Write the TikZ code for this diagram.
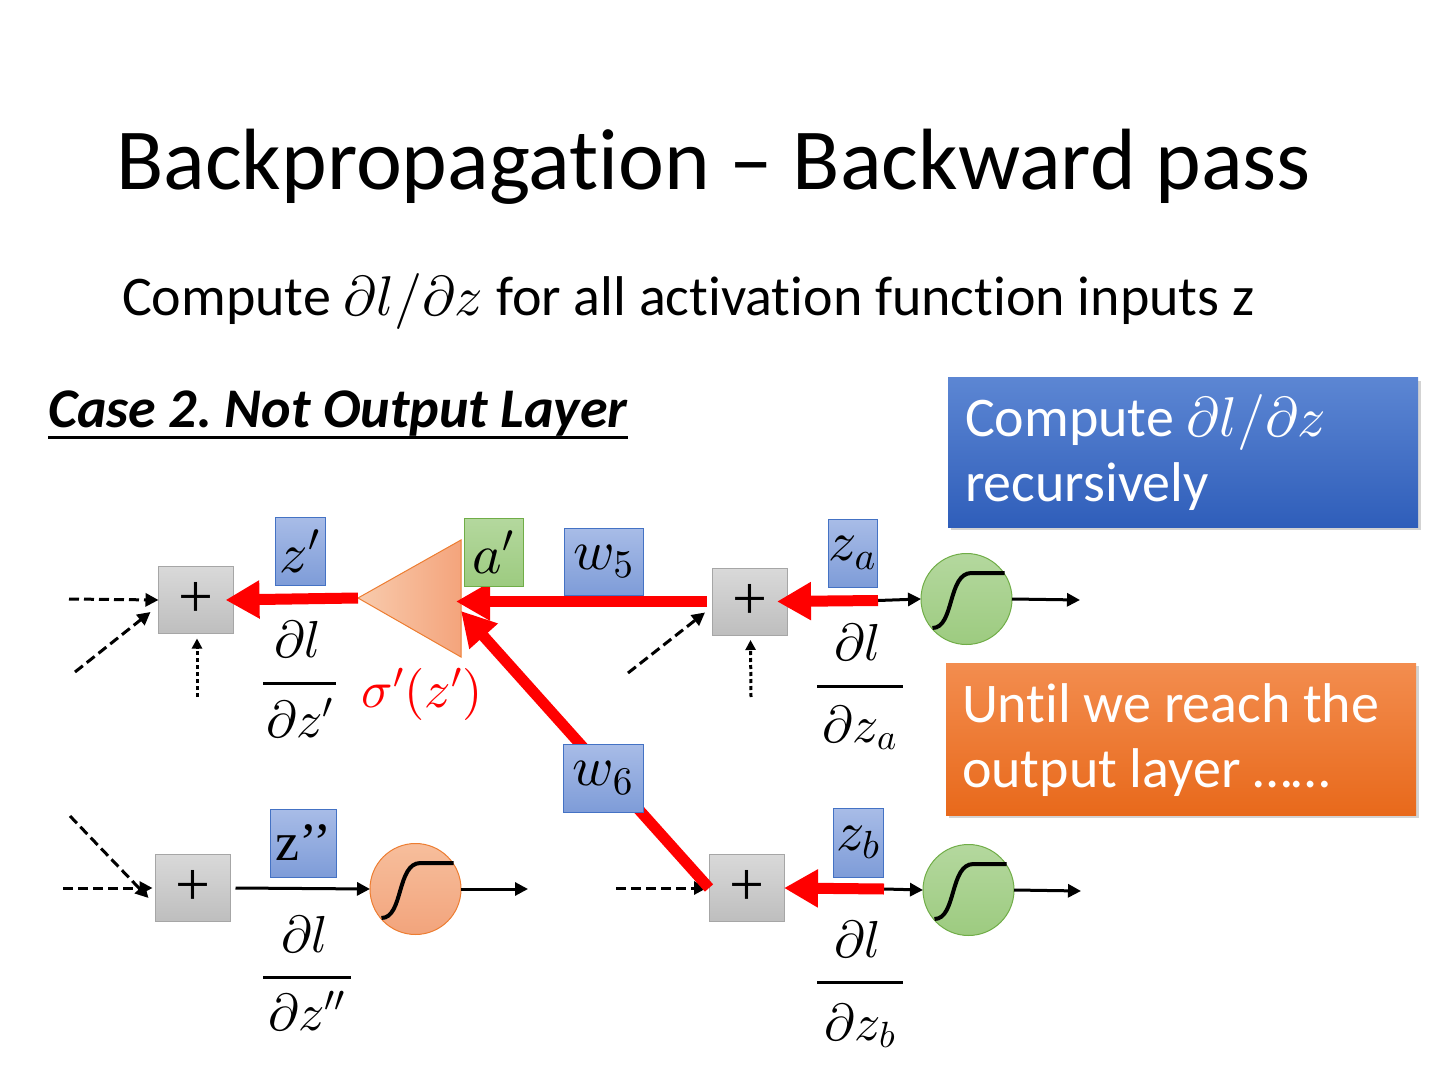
\documentclass[tikz,border=0pt]{standalone}
\usepackage[no-math]{fontspec}
\setmainfont{Carlito}[Ligatures={NoCommon}]
\newfontfamily\zfont{Liberation Serif}
\DeclareFontShape{OML}{cmm}{m}{it}{<->cmmi10}{}
\DeclareFontShape{OMS}{cmsy}{m}{n}{<->cmsy10}{}
\DeclareFontShape{OT1}{cmr}{m}{n}{<->cmr10}{}
\frenchspacing
\usetikzlibrary{arrows.meta,shadows,calc}
\definecolor{blueT}{HTML}{A8BCE7}
\definecolor{blueB}{HTML}{7E9CD8}
\definecolor{blueD}{HTML}{4472C4}
\definecolor{grayT}{HTML}{D9D9D9}
\definecolor{grayB}{HTML}{BEBEBE}
\definecolor{grayD}{HTML}{A6A6A6}
\definecolor{greenT}{HTML}{B4D89E}
\definecolor{greenB}{HTML}{9DCB80}
\definecolor{greenD}{HTML}{70AD47}
\definecolor{oranL}{HTML}{F8CBAD}
\definecolor{oranR}{HTML}{F4A47C}
\definecolor{oranT}{HTML}{F7BE9C}
\definecolor{oranB}{HTML}{F2A47C}
\definecolor{oranD}{HTML}{ED7D31}
\definecolor{bbT}{HTML}{5C86D3}
\definecolor{bbB}{HTML}{2F5EBA}
\definecolor{obT}{HTML}{F38D4F}
\definecolor{obB}{HTML}{E8691B}
\begin{document}
\begin{tikzpicture}[x=0.5pt,y=-0.5pt,
  every node/.style={inner sep=0pt, outer sep=0pt},
  plusbox/.style={rectangle, draw=grayD, line width=0.5pt, top color=grayT, bottom color=grayB, minimum width=37.5pt, minimum height=33.5pt, font=\zfont\fontsize{31}{31}\selectfont},
  lblbox/.style={rectangle, draw=blueD, line width=0.5pt, top color=blueT, bottom color=blueB, minimum height=34pt, font=\fontsize{28}{28}\selectfont},
  grnbox/.style={rectangle, draw=greenD, line width=0.5pt, top color=greenT, bottom color=greenB, minimum height=34pt, font=\fontsize{28}{28}\selectfont},
  sigcirc/.style={circle, draw=greenD, line width=0.5pt, top color=greenT, bottom color=greenB, minimum size=45.5pt},
  orcirc/.style={circle, draw=oranD, line width=0.5pt, top color=oranT, bottom color=oranB, minimum size=45.5pt},
  blk/.style={line width=1.5pt, -{Triangle[length=6.5pt,width=6.5pt]}},
  dsh/.style={blk, dash pattern=on 5pt off 2.5pt},
  dtt/.style={line width=1.5pt, dash pattern=on 2pt off 1.5pt, -{Triangle[length=5pt,width=5pt]}},
  redarr/.style={draw=red, line width=5.5pt, -{Triangle[length=17pt,width=18pt]}},
  mth/.style={font=\fontsize{26}{30}\selectfont, anchor=base},
  fracbar/.style={line width=1.5pt},
  bigbox/.style={rectangle, minimum width=235pt, drop shadow={shadow xshift=1.5pt, shadow yshift=-1.5pt, opacity=0.35}},
  boxtxt/.style={text=white, font=\fontsize{28}{32}\selectfont, anchor=base west},
  sigm/.pic={\draw[line width=2pt] (-34,29) .. controls (-12,29) and (-19,-26) .. (5,-26) -- (38,-26);}
]
\useasboundingbox (0,0) rectangle (1440,1080);

% titles
\node[anchor=base west, font=\fontsize{43.5}{52}\selectfont] (title) at (116,190) {Backpropagation -- Backward pass};
\node[anchor=base west, font=\fontsize{28}{34}\selectfont] (sub) at (122,316) {Compute $\partial l/\partial z$ for all activation function inputs z};
\node[anchor=base west, font=\fontsize{28}{32}\selectfont\bfseries\itshape] (case) at (48,428) {Case 2. Not Output Layer};
\draw[line width=1.5pt] ($(case.base west)+(0,10)$) -- ($(case.base east)+(0,10)$);

% big boxes
\node[bigbox, top color=bbT, bottom color=bbB, minimum height=74.5pt] (bb) at (1183,452.5) {};
\node[boxtxt] (bt1) at (965,437) {Compute $\partial l/\partial z$};
\node[boxtxt] (bt2) at (965,502) {recursively};
\node[bigbox, top color=obT, bottom color=obB, minimum height=76pt] (obox) at (1181,739) {};
\node[boxtxt] (ot1) at (962,722) {Until we reach the};
\node[boxtxt] (ot2) at (962,787) {output layer ……};

% plus boxes
\node[plusbox] (p1) at (196,600) {+};
\node[plusbox] (p2) at (193,888) {+};
\node[plusbox] (pa) at (749.5,601.5) {+};
\node[plusbox] (pb) at (746.5,888) {+};

% circles
\node[sigcirc] (ga) at (966.5,599) {};
\pic at (ga) {sigm};
\node[sigcirc] (gb) at (968.5,890) {};
\pic at (gb) {sigm};
\node[orcirc] (o2) at (415.5,889) {};
\pic at (o2) {sigm};

% triangle
\coordinate (tL) at (358,598);
\coordinate (tT) at (461,540);
\coordinate (tB) at (461,657);
\path[draw=oranD, line width=0.5pt, left color=oranL, right color=oranR] (tL) -- (tT) -- (tB) -- cycle;

% top-left inputs
\coordinate (s1) at (69,599);
\coordinate (s1d) at (75,672);
\coordinate (s1v) at (197,697);
\draw[dsh] (s1) -- (p1.west);
\draw[dsh] (s1d) -- ([xshift=-4pt,yshift=-6pt]p1.west);
\draw[dtt] (s1v) -- ([xshift=0.5pt,yshift=-2.5pt]p1.south);

% top-right inputs
\coordinate (sad) at (628,673);
\coordinate (sav) at (751,697);
\draw[dsh] (sad) -- ([xshift=-3.5pt,yshift=-5.5pt]pa.west);
\draw[dtt] (sav) -- ([xshift=0.5pt,yshift=-2.5pt]pa.south);

% bottom-left inputs
\coordinate (s2) at (63,888);
\coordinate (s2d) at (70,816);
\draw[dsh] (s2) -- ([xshift=-1.5pt]p2.west);
\draw[dsh] (s2d) -- ([xshift=-3.5pt,yshift=-5pt]p2.west);
\coordinate (out2) at (528,889);
\draw[blk] ([xshift=2.5pt]p2.east) -- (o2.west);
\draw[blk] (o2.east) -- (out2);

% bottom-right inputs
\coordinate (sbd) at (616,888);
\draw[dsh] (sbd) -- ([xshift=-1pt]pb.west);

% forward black arrows right
\coordinate (ja) at (878,600.5);
\coordinate (jb) at (884,889);
\coordinate (outa) at (1080,600);
\coordinate (outb) at (1081,891);
\draw[blk] (ja) -- (ga.west);
\draw[blk] (ga.east) -- (outa);
\draw[blk] (jb) -- (gb.west);
\draw[blk] (gb.east) -- (outb);

% red backward arrows
\coordinate (tH) at (456,601.5);
\coordinate (tD) at (461,611);
\draw[redarr] (pb.west) -- (tD);
\draw[redarr] ([xshift=-2.5pt]pa.west) -- (tH);
\draw[redarr] (tL) -- ([xshift=-4pt]p1.east);
\draw[redarr] (ja) -- ([xshift=-5pt]pa.east);
\draw[redarr] (jb) -- (pb.east);

% labels
\node[lblbox, minimum width=25pt] (lz1) at (300,551) {$z'$};
\node[grnbox, minimum width=29.5pt] (la1) at (493.5,552) {$a'$};
\node[lblbox, minimum width=39.5pt, minimum height=33.5pt] (lw5) at (603.5,561.5) {$w_5$};
\node[lblbox, minimum width=40pt] (lw6) at (603,778) {$w_6$};
\node[lblbox, minimum width=24.5pt] (lza) at (852.5,553) {$z_a$};
\node[lblbox, minimum width=33pt, font=\fontsize{27}{27}\selectfont] (lz2) at (303,843) {\zfont z’’};
\node[lblbox, minimum width=25pt, minimum height=34.5pt] (lzb) at (858,842.5) {$z_b$};

% fractions
\node[mth] (n1) at (298,657) {$\partial l$};
\node[mth] (d1) at (300,737) {$\partial z'$};
\coordinate (b1l) at (263,683); \coordinate (b1r) at (336,683);
\draw[fracbar] (b1l) -- (b1r);
\node[mth] (na) at (858,660) {$\partial l$};
\node[mth] (da) at (860,742) {$\partial z_a$};
\coordinate (bal) at (817,686); \coordinate (bar) at (903,686);
\draw[fracbar] (bal) -- (bar);
\node[mth] (n2) at (305,952) {$\partial l$};
\node[mth] (d2) at (307,1030) {$\partial z''$};
\coordinate (b2l) at (263,977); \coordinate (b2r) at (351,977);
\draw[fracbar] (b2l) -- (b2r);
\node[mth] (nb) at (858,957) {$\partial l$};
\node[mth] (db) at (860,1040) {$\partial z_b$};
\coordinate (bbl) at (817,982); \coordinate (bbr) at (903,982);
\draw[fracbar] (bbl) -- (bbr);

\node[mth, text=red] (sig) at (422,707) {$\sigma'(z')$};
\end{tikzpicture}
\end{document}
